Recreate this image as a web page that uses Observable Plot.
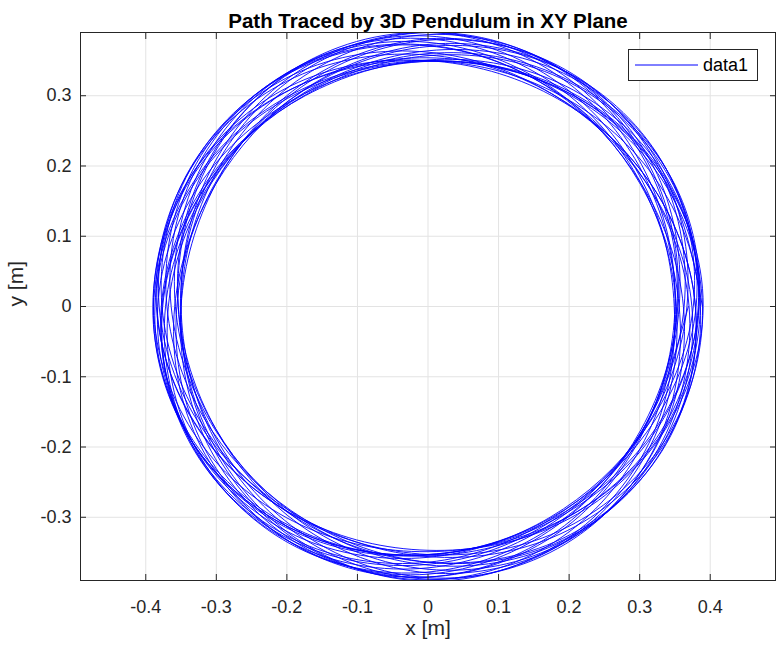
<!DOCTYPE html>
<html>
<head>
<meta charset="utf-8">
<script src="https://cdn.jsdelivr.net/npm/d3@7"></script>
<script src="https://cdn.jsdelivr.net/npm/@observablehq/plot@0.6"></script>
<style>
  body { margin: 0; background: #fff; }
  #chart { position: relative; width: 776px; height: 651px; font-family: "Liberation Sans", Arial, Helvetica, sans-serif; }
  #chart > svg { display: block; }
  .key {
    position: absolute; left: 628px; top: 49px; width: 130px; height: 32px;
    box-sizing: border-box; border: 1px solid #262626; background: #fff;
  }
  .key svg { position: absolute; left: 0; top: 0; }
  .key-text { position: absolute; left: 74px; top: 0; line-height: 30px; font-size: 18px; color: #000; }
</style>
</head>
<body>
<div id="chart"></div>
<script>
// Horizontal position of the bob [m], 12 samples per revolution, one row per turn
const pathX = [
  0.389, 0.329, 0.181, 0, -0.178, -0.323, -0.387, -0.334, -0.185, 0, 0.175, 0.316,
  0.384, 0.338, 0.189, 0, -0.175, -0.310, -0.377, -0.337, -0.193, 0, 0.176, 0.306,
  0.367, 0.333, 0.194, 0, -0.178, -0.301, -0.359, -0.327, -0.194, 0, 0.181, 0.302,
  0.354, 0.321, 0.194, 0, -0.186, -0.307, -0.350, -0.314, -0.191, 0, 0.190, 0.312,
  0.351, 0.310, 0.188, 0, -0.194, -0.320, -0.354, -0.306, -0.184, 0, 0.195, 0.327,
  0.356, 0.301, 0.179, 0, -0.194, -0.331, -0.364, -0.302, -0.176, 0, 0.193, 0.334,
  0.374, 0.308, 0.175, 0, -0.191, -0.338, -0.381, -0.314, -0.175, 0, 0.187, 0.336,
  0.386, 0.320, 0.177, 0, -0.182, -0.332, -0.389, -0.326, -0.180, 0, 0.179, 0.326,
  0.386, 0.331, 0.182, 0, -0.175, -0.317, -0.383, -0.334, -0.186, 0, 0.174, 0.310,
  0.380, 0.338, 0.192, 0, -0.176, -0.307, -0.372, -0.336, -0.194, 0, 0.178, 0.304,
  0.363, 0.330, 0.195, 0, -0.180, -0.302, -0.356, -0.324, -0.194, 0, 0.184, 0.305,
  0.353, 0.319, 0.193, 0, -0.189, -0.311, -0.351, -0.312, -0.190, 0, 0.193, 0.318,
  0.349, 0.305, 0.184, 0, -0.193, -0.322, -0.354, -0.301, -0.180, 0, 0.194, 0.328,
  0.362, 0.302, 0.178, 0, -0.194, -0.334, -0.370, -0.306, -0.175, 0, 0.192, 0.337,
  0.379, 0.312, 0.175, 0, -0.189, -0.337, -0.385, -0.318, -0.176, 0, 0.185, 0.334,
  0.389, 0.326, 0.180, 0, -0.182, -0.330, -0.390, -0.332, -0.184, 0, 0.179, 0.324,
  0.384, 0.333, 0.184, 0, -0.174, -0.312, -0.378, -0.334, -0.188, 0, 0.173, 0.306,
  0.376, 0.338, 0.194, 0, -0.177, -0.306, -0.368, -0.334, -0.195, 0, 0.180, 0.304,
  0.356, 0.325, 0.194, 0, -0.182, -0.301, -0.350, -0.318, -0.192, 0, 0.186, 0.306,
  0.350, 0.313, 0.191, 0, -0.191, -0.314, -0.350, -0.308, -0.187, 0, 0.194, 0.321,
  0.352, 0.302, 0.182, 0, -0.194, -0.326, -0.358, -0.301, -0.178, 0, 0.194, 0.332,
  0.370, 0.308, 0.178, 0, -0.193, -0.337, -0.377, -0.312, -0.177, 0, 0.191, 0.338,
  0.379, 0.312, 0.174, 0, -0.184, -0.332, -0.384, -0.319, -0.176, 0, 0.180, 0.327,
  0.390, 0.329, 0.181, 0, -0.179, -0.325, -0.389, -0.334, -0.185, 0, 0.176, 0.318,
  0.383, 0.336, 0.188, 0, -0.174, -0.309, -0.376, -0.336, -0.191, 0, 0.175, 0.304,
  0.369
];
// Vertical position of the bob [m], same samples
const pathY = [
  0, 0.190, 0.313, 0.349, 0.307, 0.187, 0, -0.193, -0.320, -0.353, -0.303, -0.183,
  0, 0.195, 0.327, 0.360, 0.303, 0.179, 0, -0.195, -0.333, -0.367, -0.305, -0.177,
  0, 0.192, 0.335, 0.373, 0.307, 0.174, 0, -0.189, -0.336, -0.381, -0.313, -0.175,
  0, 0.186, 0.335, 0.387, 0.321, 0.177, 0, -0.182, -0.330, -0.389, -0.328, -0.180,
  0, 0.179, 0.326, 0.390, 0.335, 0.185, 0, -0.177, -0.319, -0.386, -0.338, -0.189,
  0, 0.174, 0.309, 0.376, 0.336, 0.191, 0, -0.175, -0.305, -0.368, -0.333, -0.193,
  0, 0.178, 0.303, 0.362, 0.330, 0.195, 0, -0.182, -0.303, -0.356, -0.324, -0.194,
  0, 0.185, 0.306, 0.350, 0.315, 0.192, 0, -0.189, -0.311, -0.349, -0.309, -0.188,
  0, 0.191, 0.315, 0.349, 0.303, 0.183, 0, -0.193, -0.322, -0.354, -0.301, -0.179,
  0, 0.195, 0.332, 0.364, 0.304, 0.178, 0, -0.194, -0.336, -0.372, -0.307, -0.176,
  0, 0.191, 0.337, 0.379, 0.312, 0.175, 0, -0.187, -0.336, -0.385, -0.319, -0.176,
  0, 0.184, 0.334, 0.390, 0.327, 0.180, 0, -0.180, -0.328, -0.391, -0.333, -0.184,
  0, 0.176, 0.319, 0.385, 0.334, 0.186, 0, -0.174, -0.312, -0.379, -0.336, -0.190,
  0, 0.175, 0.307, 0.372, 0.335, 0.193, 0, -0.177, -0.303, -0.364, -0.332, -0.195,
  0, 0.180, 0.303, 0.358, 0.326, 0.195, 0, -0.184, -0.305, -0.353, -0.320, -0.193,
  0, 0.189, 0.312, 0.354, 0.315, 0.191, 0, -0.192, -0.318, -0.355, -0.310, -0.187,
  0, 0.192, 0.319, 0.351, 0.300, 0.180, 0, -0.193, -0.326, -0.357, -0.300, -0.177,
  0, 0.195, 0.335, 0.370, 0.307, 0.177, 0, -0.193, -0.338, -0.378, -0.311, -0.176,
  0, 0.188, 0.335, 0.381, 0.314, 0.174, 0, -0.184, -0.333, -0.385, -0.321, -0.177,
  0, 0.181, 0.330, 0.390, 0.330, 0.182, 0, -0.178, -0.323, -0.388, -0.335, -0.186,
  0, 0.175, 0.314, 0.381, 0.336, 0.189, 0, -0.174, -0.308, -0.374, -0.335, -0.192,
  0, 0.178, 0.308, 0.371, 0.334, 0.195, 0, -0.180, -0.307, -0.364, -0.330, -0.195,
  0, 0.180, 0.301, 0.350, 0.319, 0.192, 0, -0.184, -0.304, -0.347, -0.312, -0.189,
  0, 0.190, 0.313, 0.350, 0.309, 0.188, 0, -0.193, -0.320, -0.353, -0.305, -0.184,
  0, 0.194, 0.325, 0.357, 0.301, 0.179, 0, -0.194, -0.331, -0.364, -0.302, -0.176,
  0
];

const xTicks = [-0.4, -0.3, -0.2, -0.1, 0, 0.1, 0.2, 0.3, 0.4];
const xTickLabels = ["-0.4", "-0.3", "-0.2", "-0.1", "0", "0.1", "0.2", "0.3", "0.4"];
const yTicks = [-0.3, -0.2, -0.1, 0, 0.1, 0.2, 0.3];
const yTickLabels = ["-0.3", "-0.2", "-0.1", "0", "0.1", "0.2", "0.3"];
const xLimits = [-0.4925, 0.4925];
const yLimits = [-0.39, 0.39];

const titleText = "Path Traced by 3D Pendulum in XY Plane";
const xLabel = "x [m]";
const yLabel = "y [m]";
const seriesName = "data1";

const path = pathX.map((x, i) => ({x, y: pathY[i]}));

const axisColor = "#262626";
const gridColor = "#e3e3e3";
const lineColor = "#0000ff";
const blank = () => "";

const chart = Plot.plot({
  width: 776,
  height: 651,
  marginTop: 32,
  marginRight: 1,
  marginBottom: 71,
  marginLeft: 80,
  style: {fontFamily: "'Liberation Sans', Arial, Helvetica, sans-serif", fontSize: "18px", color: axisColor, background: "#fff"},
  x: {domain: xLimits},
  y: {domain: yLimits},
  marks: [
    Plot.gridX(xTicks, {stroke: gridColor, strokeOpacity: 1}),
    Plot.gridY(yTicks, {stroke: gridColor, strokeOpacity: 1}),
    Plot.line(path, {x: "x", y: "y", curve: "natural", stroke: lineColor, strokeWidth: 0.9, clip: true}),
    // tick labels
    Plot.axisX(xTicks, {anchor: "bottom", tickSize: 0, tickPadding: 20, tickFormat: (d, i) => xTickLabels[i], label: null, fontSize: 18}),
    Plot.axisY(yTicks, {anchor: "left", tickSize: 0, tickPadding: 9, tickFormat: (d, i) => yTickLabels[i], label: null, fontSize: 18}),
    // inward tick marks on all four sides
    Plot.axisX(xTicks, {anchor: "bottom", tickSize: 6, dy: -6, tickFormat: blank, label: null}),
    Plot.axisX(xTicks, {anchor: "top", tickSize: 6, dy: 6, tickFormat: blank, label: null}),
    Plot.axisY(yTicks, {anchor: "left", tickSize: 6, dx: 6, tickFormat: blank, label: null}),
    Plot.axisY(yTicks, {anchor: "right", tickSize: 6, dx: -6, tickFormat: blank, label: null}),
    Plot.frame({stroke: axisColor}),
    Plot.text([titleText], {text: d => d, frameAnchor: "top", dy: -19, fontWeight: "bold", fontSize: 20.5, fill: "#000"}),
    Plot.text([xLabel], {text: d => d, frameAnchor: "bottom", dy: 54, fontSize: 21, fill: axisColor}),
    Plot.text([yLabel], {text: d => d, frameAnchor: "left", dx: -64, rotate: -90, fontSize: 21, fill: axisColor})
  ]
});

const root = document.getElementById("chart");
root.appendChild(chart);

// legend box with a sample of the line style
const key = document.createElement("div");
key.className = "key";
key.innerHTML =
  `<svg width="128" height="30"><line x1="6" x2="69" y1="15" y2="15" stroke="${lineColor}" stroke-width="1"></line></svg>` +
  `<div class="key-text">${seriesName}</div>`;
root.appendChild(key);
</script>
</body>
</html>
